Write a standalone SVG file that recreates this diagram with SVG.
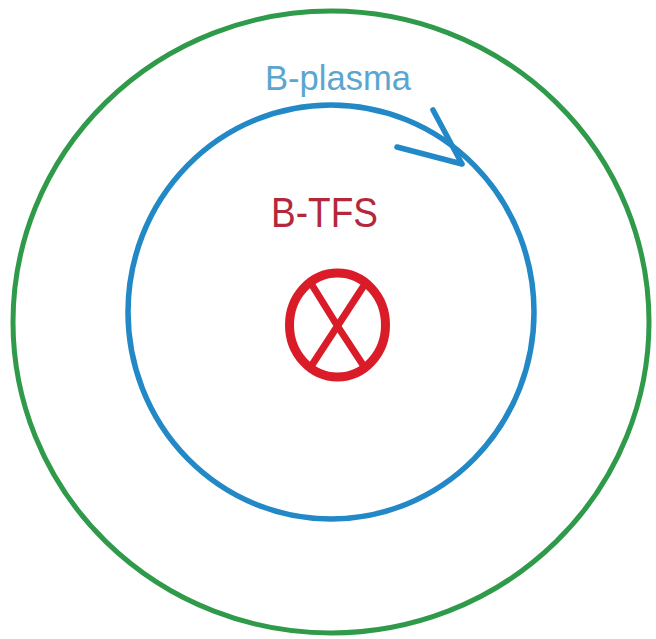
<svg xmlns="http://www.w3.org/2000/svg" width="656" height="639" viewBox="0 0 656 639">
<style>
.green{fill:none;stroke:#2f9a4a;stroke-width:5}
.blue{fill:none;stroke:#2288c6;stroke-width:5.5;stroke-linecap:round}
.red{fill:none;stroke:#d91c28;stroke-linecap:round}
.t1{font-family:"Liberation Sans",Arial,sans-serif;font-size:35px;fill:#5aa6d0}
.t2{font-family:"Liberation Sans",Arial,sans-serif;font-size:42px;fill:#b3283a}
</style>
<rect width="656" height="639" fill="#ffffff"/>
<g id="outer">
<ellipse class="green" cx="331" cy="322" rx="318" ry="311"/>
</g>
<g id="plasma">
<ellipse class="blue" cx="331" cy="312" rx="203" ry="207"/>
<text class="t1" x="265" y="90" textLength="146" lengthAdjust="spacingAndGlyphs">B-plasma</text>
</g>
<g id="connectors">
<path class="blue" d="M433 110 L462 164 M397 147 L462 164"/>
</g>
<g id="tfs">
<text class="t2" x="271" y="227" textLength="107" lengthAdjust="spacingAndGlyphs">B-TFS</text>
<ellipse class="red" cx="337.5" cy="325" rx="48" ry="52" stroke-width="9"/>
<path class="red" stroke-width="7" d="M312 285 Q338 328 365 368 M363 287 Q336 328 310 368"/>
</g>
</svg>
